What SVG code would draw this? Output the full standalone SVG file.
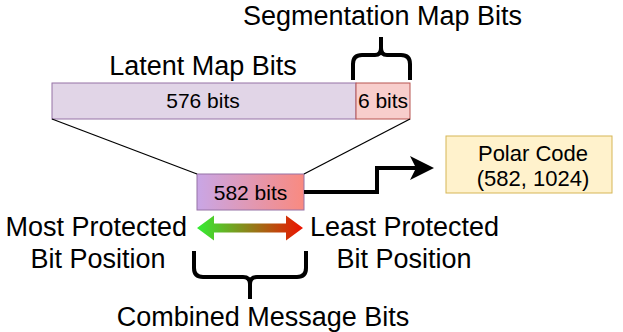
<svg xmlns="http://www.w3.org/2000/svg" width="623" height="332" viewBox="0 0 623 332">
  <style>
    text { font-family: "Liberation Sans", Arial, sans-serif; fill: #000; }
    .lbl { font-size: 27px; }
    .small { font-size: 21px; }
    .polar { font-size: 22px; }
    .brace { fill: none; stroke: #000; stroke-width: 4; stroke-linejoin: round; }
    .thin { fill: none; stroke: #000; stroke-width: 1.3; }
  </style>
  <defs>
    <linearGradient id="msgGrad" x1="0" y1="0" x2="1" y2="0">
      <stop offset="0" stop-color="#c9a6e6"/>
      <stop offset="1" stop-color="#f98a80"/>
    </linearGradient>
    <linearGradient id="protGrad" gradientUnits="userSpaceOnUse" x1="197" y1="0" x2="303" y2="0">
      <stop offset="0" stop-color="#33ee33"/>
      <stop offset="1" stop-color="#ee1100"/>
    </linearGradient>
    <marker id="head" markerWidth="6" markerHeight="6" refX="5" refY="3" orient="auto" markerUnits="strokeWidth">
      <path d="M0,0 L6,3 L0,6 L1.5,3 Z" fill="#000"/>
    </marker>
  </defs>

  <!-- latent map bits bar -->
  <g id="latent">
    <rect x="52" y="83" width="304" height="36" fill="#e1d5e7" stroke="#9673a6" stroke-width="1"/>
    <text class="small" x="203" y="108" text-anchor="middle">576 bits</text>
    <text class="lbl" x="203" y="75" text-anchor="middle">Latent Map Bits</text>
  </g>

  <!-- segmentation map bits -->
  <g id="segmentation">
    <rect x="356" y="83" width="54" height="36" fill="#f8cecc" stroke="#b85450" stroke-width="1"/>
    <text class="small" x="383" y="108" text-anchor="middle">6 bits</text>
    <path class="brace" d="M353,80 V64 Q353,55 362,55 H375 Q381,55 381,48 V37 M381,48 Q381,55 387,55 H401 Q410,55 410,64 V80"/>
    <text class="lbl" x="382.5" y="25" text-anchor="middle">Segmentation Map Bits</text>
  </g>

  <!-- combined message bits -->
  <g id="combined">
    <rect x="197" y="174" width="107" height="36" fill="url(#msgGrad)" stroke="#9673a6" stroke-width="1"/>
    <text class="small" x="250.5" y="199.5" text-anchor="middle">582 bits</text>
  </g>

  <!-- polar code -->
  <g id="polar">
    <rect x="446" y="136" width="166" height="57" fill="#fff2cc" stroke="#d6b656" stroke-width="1"/>
    <text class="polar" x="533" y="161" text-anchor="middle">Polar Code</text>
    <text class="polar" x="533" y="186" text-anchor="middle">(582, 1024)</text>
  </g>

  <!-- protection scale -->
  <g id="protection">
    <path d="M197,228 L214,215.5 V223.5 H286 V215.5 L303,228 L286,240.5 V232.5 H214 V240.5 Z" fill="url(#protGrad)"/>
    <text class="lbl" x="187" y="236" text-anchor="end">Most Protected</text>
    <text class="lbl" x="98" y="268" text-anchor="middle">Bit Position</text>
    <text class="lbl" x="310" y="236">Least Protected</text>
    <text class="lbl" x="404" y="268" text-anchor="middle">Bit Position</text>
  </g>

  <!-- combined message brace -->
  <g id="combined-label">
    <path class="brace" d="M194,251 V268 Q194,277 203,277 H243 Q250,277 250,284 V299 M250,284 Q250,277 257,277 H297 Q306,277 306,268 V251"/>
    <text class="lbl" x="263" y="326" text-anchor="middle">Combined Message Bits</text>
  </g>

  <!-- connectors -->
  <g id="connectors">
    <line class="thin" x1="52" y1="119" x2="197" y2="174"/>
    <line class="thin" x1="410" y1="119" x2="304" y2="174"/>
    <path d="M304,192 H377 V168 H430" fill="none" stroke="#000" stroke-width="4" marker-end="url(#head)"/>
  </g>
</svg>
